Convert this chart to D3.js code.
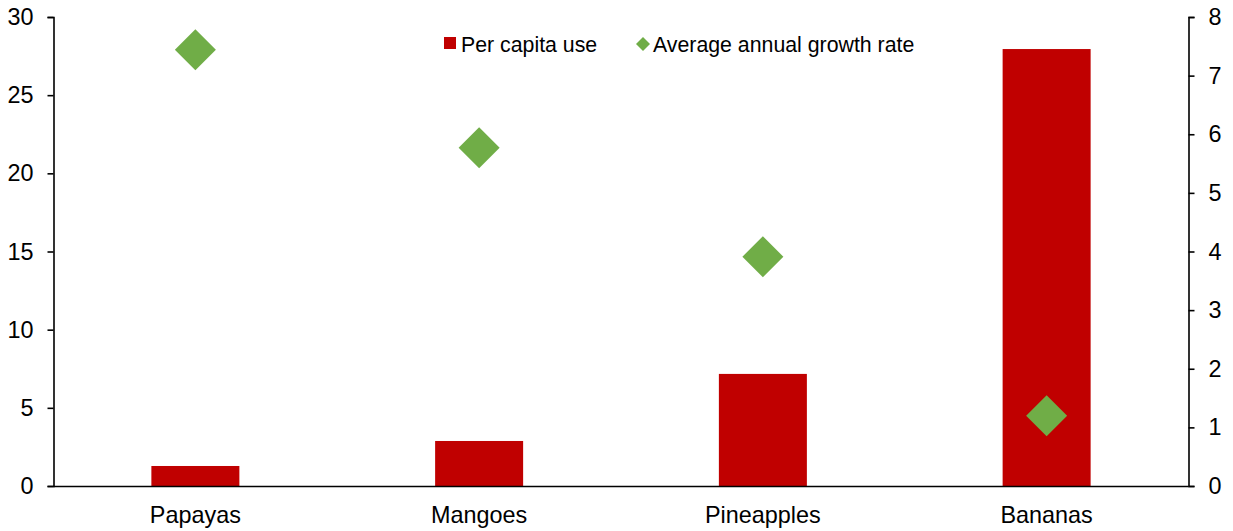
<!DOCTYPE html>
<html><head><meta charset="utf-8">
<script src="https://cdn.jsdelivr.net/npm/d3@7"></script>
<style>body{margin:0;background:#fff}svg{display:block}text{font-family:"Liberation Sans",Arial,sans-serif}</style>
</head><body><svg id="c" width="1233" height="531"></svg>
<script>
const categories = ["Papayas","Mangoes","Pineapples","Bananas"];
const perCapita = [1.28, 2.88, 7.17, 27.95];
const growth = [7.44, 5.77, 3.91, 1.2];
const leftTicks = [0,5,10,15,20,25,30];
const rightTicks = [0,1,2,3,4,5,6,7,8];

const svg = d3.select("#c");
const L = 53.5, R = 1188.5, T = 17, B = 486;
const x = d3.scaleBand().domain(categories).range([L, R]);
const yL = d3.scaleLinear().domain([0,30]).range([B, T]);
const yR = d3.scaleLinear().domain([0,8]).range([B, T]);
const bw = 88;

svg.selectAll("rect.bar").data(categories).enter().append("rect")
  .attr("x", d => x(d) + x.bandwidth()/2 - bw/2)
  .attr("y", (d,i) => yL(perCapita[i]))
  .attr("width", bw)
  .attr("height", (d,i) => B - yL(perCapita[i]))
  .attr("fill", "#C00000");

const ds = 20.5;
svg.selectAll("path.dia").data(categories).enter().append("path")
  .attr("d", (d,i) => {
    const cx = x(d) + x.bandwidth()/2, cy = yR(growth[i]);
    return `M${cx},${cy-ds}L${cx+ds},${cy}L${cx},${cy+ds}L${cx-ds},${cy}Z`;
  })
  .attr("fill", "#70AD47");

const fs = 23.4;
const gl = svg.append("g").attr("transform", `translate(${L},0)`)
  .call(d3.axisLeft(yL).tickValues(leftTicks).tickSize(6).tickPadding(14));
const gr = svg.append("g").attr("transform", `translate(${R},0)`)
  .call(d3.axisRight(yR).tickValues(rightTicks).tickSize(6).tickPadding(14));
const gx = svg.append("g").attr("transform", `translate(0,${B})`)
  .call(d3.axisBottom(x).tickSize(0).tickPadding(20.5));
[gl, gr, gx].forEach(g => {
  g.selectAll("text").attr("font-size", fs).attr("fill", "#000").style("font-family", '"Liberation Sans",Arial,sans-serif');
  g.selectAll("line,path").attr("stroke", "#000").attr("stroke-width", 1.6);
});
gx.select("path.domain").attr("d", `M${L},0.5H${R}`);

// legend
const lfs = 21.3;
const lg = svg.append("g");
lg.append("rect").attr("x", 444).attr("y", 37).attr("width", 12).attr("height", 12).attr("fill", "#C00000");
lg.append("text").attr("x", 461).attr("y", 51.5).attr("font-size", lfs).text("Per capita use");
const lcx = 643, lcy = 44, ls = 7;
lg.append("path").attr("d", `M${lcx},${lcy-ls}L${lcx+ls},${lcy}L${lcx},${lcy+ls}L${lcx-ls},${lcy}Z`).attr("fill", "#70AD47");
lg.append("text").attr("x", 653).attr("y", 51.5).attr("font-size", lfs).text("Average annual growth rate");
</script></body></html>
